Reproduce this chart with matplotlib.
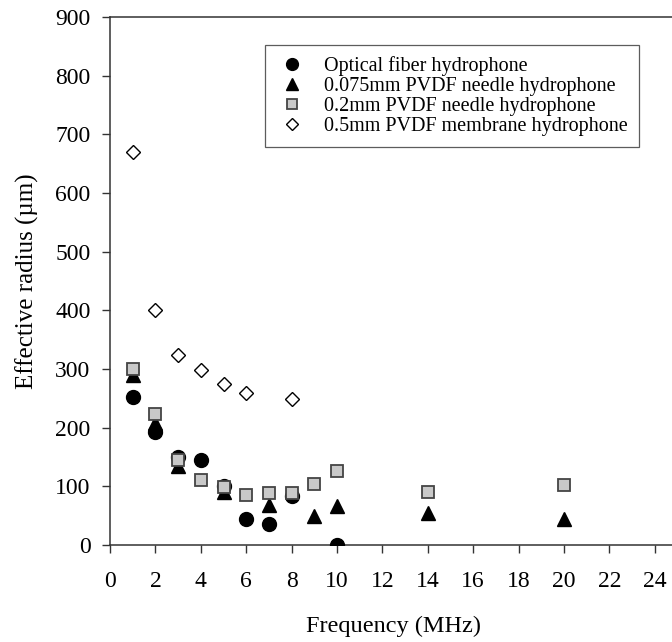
import numpy as np
import matplotlib
matplotlib.use('Agg')
import matplotlib.pyplot as plt

plt.rcParams['font.family'] = ['Liberation Serif', 'DejaVu Serif']

# 数据
fiber_f = [1, 2, 3, 4, 5, 6, 7, 8, 10]
fiber_r = [252, 192, 150, 145, 101, 45, 36, 83, 0]

pvdf075_f = [1, 2, 3, 5, 7, 9, 10, 14, 20]
pvdf075_r = [290, 208, 135, 90, 68, 50, 66, 55, 44]

pvdf02_f = [1, 2, 3, 4, 5, 6, 7, 8, 9, 10, 14, 20]
pvdf02_r = [300, 224, 145, 110, 99, 85, 89, 88, 104, 126, 91, 102]

membrane_f = [1, 2, 3, 4, 5, 6, 8]
membrane_r = [670, 400, 324, 298, 274, 259, 249]

x_ticks = np.arange(0, 25, 2)
y_ticks = np.arange(0, 901, 100)

fig = plt.figure(figsize=(6.72, 6.42), dpi=100)
ax = fig.add_axes([110 / 672, 97 / 642, 567.5 / 672, 528 / 642])

ax.plot(pvdf075_f, pvdf075_r, '^', color='black', markersize=10.5, linestyle='none',
        label='0.075mm PVDF needle hydrophone', zorder=3)
ax.plot(fiber_f, fiber_r, 'o', color='black', markersize=10, linestyle='none',
        label='Optical fiber hydrophone', zorder=3)
ax.plot(pvdf02_f, pvdf02_r, 's', markerfacecolor='#c9c9c9', markeredgecolor='#444444',
        markeredgewidth=1.3, markersize=9, linestyle='none',
        label='0.2mm PVDF needle hydrophone', zorder=4)
ax.plot(membrane_f, membrane_r, 'D', markerfacecolor='white', markeredgecolor='black',
        markeredgewidth=1.0, markersize=7.5, linestyle='none',
        label='0.5mm PVDF membrane hydrophone', zorder=4)

ax.set_xlim(0, 25)
ax.set_ylim(0, 900)
ax.set_xticks(x_ticks)
ax.set_yticks(y_ticks)
ax.tick_params(direction='out', length=6, width=1, labelsize=17, color='#333333')
ax.tick_params(axis='x', pad=13)
ax.tick_params(axis='y', pad=8)
for s in ['left', 'bottom', 'top']:
    ax.spines[s].set_linewidth(1.1)
    ax.spines[s].set_color('#333333')
ax.spines['right'].set_visible(False)

ax.set_xlabel('Frequency (MHz)', fontsize=17.5, labelpad=17)
ax.set_ylabel('Effective radius (\u00b5m)', fontsize=18, labelpad=12)

handles, labels = ax.get_legend_handles_labels()
order = [1, 0, 2, 3]
leg = ax.legend([handles[i] for i in order], [labels[i] for i in order],
                loc='upper left', bbox_to_anchor=(0.273, 0.947), borderaxespad=0,
                fontsize=14.5, frameon=True, fancybox=False, edgecolor='#333333',
                handletextpad=0.8, labelspacing=0.05, borderpad=0.55,
                handlelength=1.6, markerscale=0.85)
leg.get_frame().set_linewidth(0.9)

fig.savefig('out.png', dpi=100)
plt.close(fig)
